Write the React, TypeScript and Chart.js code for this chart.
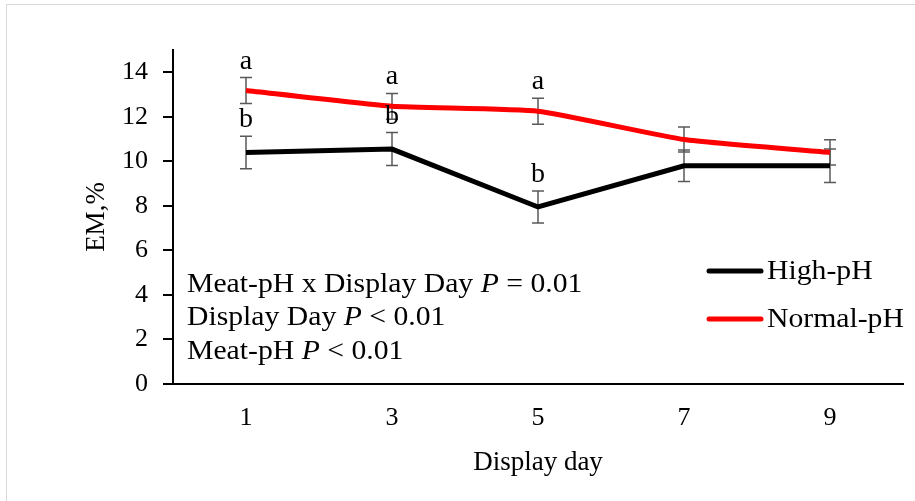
import React, { useEffect, useRef } from 'react';
import { Chart, registerables } from 'chart.js';

Chart.register(...registerables);

// Display days on the x axis
const days = ['1', '3', '5', '7', '9'];

// EM, % means and standard errors per meat-pH group
const highPH = [10.4, 10.55, 7.95, 9.8, 9.8];
const highPHErr = [0.73, 0.74, 0.72, 0.71, 0.75];
const normalPH = [13.18, 12.47, 12.25, 10.98, 10.4];
const normalPHErr = [0.58, 0.58, 0.58, 0.56, 0.57];

// Mean separation letters within a display day
const highPHLetters = ['b', 'b', 'b', '', ''];
const normalPHLetters = ['a', 'a', 'a', '', ''];

const yTicks = [0, 2, 4, 6, 8, 10, 12, 14];

// Statistical summary; the second entry of each row is the italic P
const statRows: [string, string, string][] = [
  ['Meat-pH x Display Day ', 'P', ' = 0.01'],
  ['Display Day ', 'P', ' < 0.01'],
  ['Meat-pH ', 'P', ' < 0.01'],
];

const SERIF = '"Liberation Serif", "Times New Roman", serif';
const STRETCH = 1.1;

function drawStretched(
  ctx: CanvasRenderingContext2D,
  text: string,
  x: number,
  y: number,
  font: string
) {
  ctx.save();
  ctx.font = font;
  ctx.scale(STRETCH, 1);
  ctx.fillText(text, x / STRETCH, y);
  const w = ctx.measureText(text).width * STRETCH;
  ctx.restore();
  return w;
}

const frameAndBackground = {
  id: 'frameAndBackground',
  beforeDraw(chart: Chart) {
    const ctx = chart.ctx;
    ctx.save();
    ctx.fillStyle = '#ffffff';
    ctx.fillRect(0, 0, chart.width, chart.height);
    ctx.strokeStyle = '#d9d9d9';
    ctx.lineWidth = 1;
    ctx.strokeRect(6.5, 4.5, chart.width + 20, chart.height + 20);
    ctx.restore();
  },
};

const errorBarsAndLetters = {
  id: 'errorBarsAndLetters',
  beforeDatasetsDraw(chart: Chart) {
    const ctx = chart.ctx;
    const y = chart.scales.y;
    const errs = [highPHErr, normalPHErr];
    ctx.save();
    ctx.strokeStyle = '#595959';
    ctx.lineWidth = 1.5;
    chart.data.datasets.forEach((ds, i) => {
      const meta = chart.getDatasetMeta(i);
      (ds.data as number[]).forEach((v, j) => {
        const x = meta.data[j].x;
        const top = y.getPixelForValue(v + errs[i][j]);
        const bot = y.getPixelForValue(v - errs[i][j]);
        ctx.beginPath();
        ctx.moveTo(x, top);
        ctx.lineTo(x, bot);
        ctx.moveTo(x - 6, top);
        ctx.lineTo(x + 6, top);
        ctx.moveTo(x - 6, bot);
        ctx.lineTo(x + 6, bot);
        ctx.stroke();
      });
    });
    ctx.restore();
  },
  afterDatasetsDraw(chart: Chart) {
    const ctx = chart.ctx;
    const y = chart.scales.y;
    const errs = [highPHErr, normalPHErr];
    const letters = [highPHLetters, normalPHLetters];
    ctx.save();
    ctx.fillStyle = '#000000';
    ctx.textAlign = 'center';
    ctx.textBaseline = 'alphabetic';
    ctx.font = `28px ${SERIF}`;
    chart.data.datasets.forEach((ds, i) => {
      const meta = chart.getDatasetMeta(i);
      (ds.data as number[]).forEach((v, j) => {
        const t = letters[i][j];
        if (!t) return;
        const x = meta.data[j].x;
        const top = y.getPixelForValue(v + errs[i][j]);
        ctx.fillText(t, x, top - 9);
      });
    });
    ctx.restore();
  },
};

const notesAndLegend = {
  id: 'notesAndLegend',
  afterDraw(chart: Chart) {
    const ctx = chart.ctx;
    const area = chart.chartArea;
    ctx.save();
    ctx.fillStyle = '#000000';
    ctx.textAlign = 'left';

    // statistical summary inside the plot area
    ctx.textBaseline = 'alphabetic';
    const x0 = area.left + 14;
    statRows.forEach((row, r) => {
      const base = 292 + r * 33.3;
      let x = x0;
      x += drawStretched(ctx, row[0], x, base, `27px ${SERIF}`);
      x += drawStretched(ctx, row[1], x, base, `italic 27px ${SERIF}`);
      drawStretched(ctx, row[2], x, base, `27px ${SERIF}`);
    });

    // legend
    ctx.textBaseline = 'middle';
    chart.data.datasets.forEach((ds, i) => {
      const yy = 271 + i * 48;
      ctx.strokeStyle = ds.borderColor as string;
      ctx.lineWidth = 5;
      ctx.lineCap = 'round';
      ctx.beginPath();
      ctx.moveTo(709, yy);
      ctx.lineTo(761, yy);
      ctx.stroke();
      drawStretched(ctx, ds.label as string, 767, yy + 1, `27px ${SERIF}`);
    });
    ctx.restore();
  },
};

export default function App() {
  const canvasRef = useRef<HTMLCanvasElement | null>(null);

  useEffect(() => {
    if (!canvasRef.current) return;
    const chart = new Chart(canvasRef.current, {
      type: 'line',
      data: {
        labels: days,
        datasets: [
          {
            label: 'High-pH',
            data: highPH,
            borderColor: '#000000',
            backgroundColor: '#000000',
            borderWidth: 5,
            pointRadius: 0,
            tension: 0,
          },
          {
            label: 'Normal-pH',
            data: normalPH,
            borderColor: '#ff0000',
            backgroundColor: '#ff0000',
            borderWidth: 5,
            pointRadius: 0,
            tension: 0.15,
          },
        ],
      },
      options: {
        animation: false,
        responsive: false,
        devicePixelRatio: 1,
        layout: { padding: { left: 81, top: 50, right: 12, bottom: 22 } },
        plugins: {
          legend: { display: false },
          tooltip: { enabled: false },
        },
        scales: {
          x: {
            type: 'category',
            offset: true,
            grid: { display: true, drawOnChartArea: false, drawTicks: false },
            border: { display: true, color: '#000000', width: 2 },
            ticks: {
              color: '#000000',
              font: { family: SERIF, size: 26 },
              padding: 19,
              maxRotation: 0,
            },
            title: {
              display: true,
              text: 'Display day',
              color: '#000000',
              font: { family: SERIF, size: 27 },
              padding: 0,
            },
            afterFit: (s: any) => {
              s.height = 95;
            },
          },
          y: {
            type: 'linear',
            min: 0,
            max: 15,
            afterBuildTicks: (s: any) => {
              s.ticks = yTicks.map((v) => ({ value: v }));
            },
            grid: {
              display: true,
              drawOnChartArea: false,
              drawTicks: true,
              tickLength: 10,
              color: '#000000',
              lineWidth: 2,
            },
            border: { display: true, color: '#000000', width: 2 },
            ticks: {
              color: '#000000',
              font: { family: SERIF, size: 26 },
              padding: 15,
            },
            title: {
              display: true,
              text: 'EM,%',
              color: '#000000',
              font: { family: SERIF, size: 27 },
              padding: 0,
            },
            afterFit: (s: any) => {
              s.width = 92;
            },
          },
        },
      },
      plugins: [frameAndBackground, errorBarsAndLetters, notesAndLegend],
    });
    return () => chart.destroy();
  }, []);

  return (
    <div style={{ position: 'absolute', left: 0, top: 0, width: 915, height: 501 }}>
      <canvas ref={canvasRef} width={915} height={501} style={{ display: 'block' }} />
    </div>
  );
}
